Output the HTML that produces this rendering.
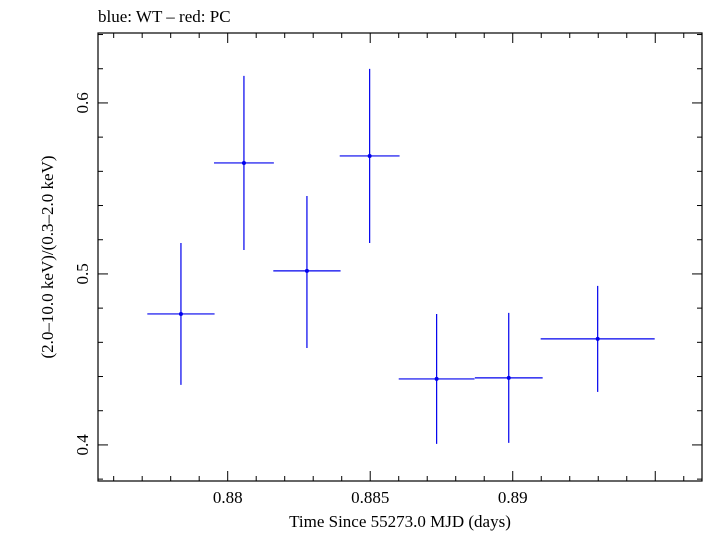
<!DOCTYPE html>
<html><head><meta charset="utf-8"><style>
body{margin:0;background:#fff;}
svg text{font-family:"Liberation Serif",serif;fill:#000;}
</style></head><body>
<svg id="chart" width="705" height="532" xmlns="http://www.w3.org/2000/svg">
<text x="98" y="22" font-size="17">blue: WT – red: PC</text>
<rect x="98" y="33" width="604" height="448" fill="none" stroke="#000" stroke-width="1.2"/>
<g id="axes"></g>
<g id="marks"></g>
<text x="400" y="527" font-size="17" text-anchor="middle">Time Since 55273.0 MJD (days)</text>
<text transform="translate(53,257) rotate(-90)" font-size="17" text-anchor="middle">(2.0–10.0 keV)/(0.3–2.0 keV)</text>
</svg>
<script>
const times=[0.87836,0.88057,0.88278,0.88498,0.88733,0.88986,0.89298];
const timeErr=[0.00118,0.00105,0.00118,0.00105,0.00133,0.00119,0.002];
const ratios=[0.4766,0.5649,0.5018,0.569,0.4386,0.4392,0.462];
const ratioErrHi=[0.0415,0.0509,0.0438,0.0509,0.038,0.038,0.031];
const ratioErrLo=[0.0415,0.0509,0.0451,0.0509,0.038,0.038,0.031];
const xTicks=[0.88,0.885,0.89];
const xTickLabels=["0.88","0.885","0.89"];
const yTicks=[0.4,0.5,0.6];
const yTickLabels=["0.4","0.5","0.6"];
const L=98,R=702,T=33,B=481;
const x0=0.87545,x1=0.89664,y0=0.3789,y1=0.6409;
const sx=v=>L+(v-x0)/(x1-x0)*(R-L);
const sy=v=>B-(v-y0)/(y1-y0)*(B-T);
const NS="http://www.w3.org/2000/svg";
const axes=document.getElementById('axes'),marks=document.getElementById('marks');
function line(p,a,b,c,d,col,w,name){const l=document.createElementNS(NS,'line');
l.setAttribute('x1',a);l.setAttribute('y1',b);l.setAttribute('x2',c);l.setAttribute('y2',d);
l.setAttribute('stroke',col);l.setAttribute('stroke-width',w);


p.appendChild(l);return l;}
function txt(p,x,y,s,anchor,tr,name){const t=document.createElementNS(NS,'text');
t.setAttribute('x',x);t.setAttribute('y',y);t.setAttribute('font-size','17');t.setAttribute('text-anchor',anchor);
if(tr)t.setAttribute('transform',tr);t.textContent=s;


p.appendChild(t);}
// minor x ticks every 0.001
for(let k=Math.ceil(x0*1000);k<=Math.floor(x1*1000);k++){const v=k/1000,X=sx(v);const major=k%5===0;const len=major?10:5;
line(axes,X,B,X,B-len,'#000',1,'x-tick');line(axes,X,T,X,T+len,'#000',1,'x-tick-top');}
xTicks.forEach((v,i)=>txt(axes,sx(v),503,xTickLabels[i],'middle',null,'x-tick-label'));
for(let k=Math.ceil(y0*50);k<=Math.floor(y1*50);k++){const v=k/50,Y=sy(v);const major=k%5===0;const len=major?10:5;
line(axes,L,Y,L+len,Y,'#000',1,'y-tick');line(axes,R,Y,R-len,Y,'#000',1,'y-tick-right');}
yTicks.forEach((v,i)=>{const Y=sy(v);txt(axes,88,Y,yTickLabels[i],'middle','rotate(-90 88 '+Y+')','y-tick-label');});
times.forEach((t,i)=>{const X=sx(t),Y=sy(ratios[i]);
line(marks,sx(t-timeErr[i]),Y,sx(t+timeErr[i]),Y,'#0000ee',1.2,'x-error-bar');
line(marks,X,sy(ratios[i]+ratioErrHi[i]),X,sy(ratios[i]-ratioErrLo[i]),'#0000ee',1.2,'y-error-bar');
const c=document.createElementNS(NS,'circle');c.setAttribute('cx',X);c.setAttribute('cy',Y);c.setAttribute('r',2);c.setAttribute('fill','#0000ee');


marks.appendChild(c);});
</script>
</body></html>
